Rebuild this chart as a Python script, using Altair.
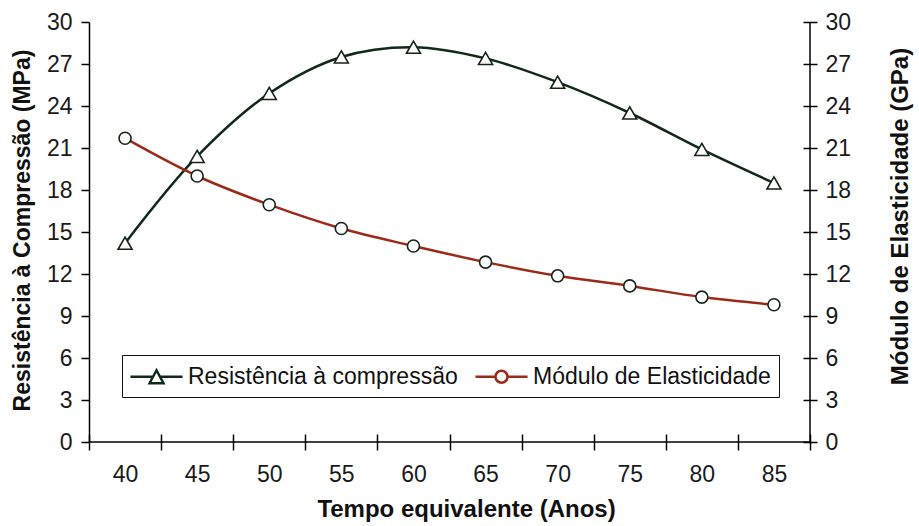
import altair as alt
import pandas as pd

# Tempo equivalente (anos) e valores medidos
tempo = ["40", "45", "50", "55", "60", "65", "70", "75", "80", "85"]
resistencia = [14.2, 20.4, 24.9, 27.5, 28.2, 27.4, 25.7, 23.5, 20.9, 18.5]
modulo = [21.7, 19.0, 16.95, 15.25, 14.0, 12.85, 11.87, 11.15, 10.35, 9.8]
series = ["Resistência à compressão", "Módulo de Elasticidade"]
marcas_y = [0, 3, 6, 9, 12, 15, 18, 21, 24, 27, 30]

LARGURA, ALTURA = 721, 420

VERDE = "#0f2a18"
VERMELHO = "#9c2a1a"
CONTORNO = "#152418"
FONTE = "Liberation Sans"

df_res = pd.DataFrame({"tempo": tempo, "valor": resistencia, "serie": series[0]})
df_mod = pd.DataFrame({"tempo": tempo, "valor": modulo, "serie": series[1]})
df_todos = pd.concat([df_res, df_mod], ignore_index=True)
df_base = pd.DataFrame({"valor": [0]})

# Eixo horizontal: marcas cruzadas nos limites das categorias
eixo_x = alt.Axis(
    title="Tempo equivalente (Anos)",
    tickBand="extent",
    offset=-8,
    tickSize=16,
    tickWidth=1.5,
    tickColor="black",
    domain=False,
    labelAngle=0,
    labelPadding=13,
    labelFontSize=23,
    titleFontSize=24,
    titleX=377,
    titleY=82,
    titleBaseline="alphabetic",
)
escala_x = alt.Scale(type="band", paddingInner=0, paddingOuter=0, domain=tempo)
x_enc = alt.X("tempo:O", sort=tempo, scale=escala_x, axis=eixo_x)

escala_y = alt.Scale(domain=[0, 30], nice=False, zero=True)

eixo_esq = alt.Axis(
    title="Resistência à Compressão (MPa)",
    values=marcas_y,
    tickSize=8,
    tickWidth=1.5,
    tickColor="black",
    labelPadding=9,
    labelFontSize=23,
    titleFontSize=23,
    titleX=-60,
    titleY=208,
    titleAngle=270,
    titleBaseline="alphabetic",
    domainColor="black",
    domainWidth=1.5,
)
# Eixo direito com marcas cruzadas
eixo_dir = alt.Axis(
    title="Módulo de Elasticidade (GPa)",
    orient="right",
    values=marcas_y,
    offset=-7,
    tickSize=14,
    tickWidth=1.5,
    tickColor="black",
    domain=False,
    labelPadding=8,
    labelFontSize=23,
    titleFontSize=24,
    titleX=104,
    titleY=194,
    titleAngle=270,
    titleBaseline="alphabetic",
)

y_esq = alt.Y("valor:Q", scale=escala_y, axis=eixo_esq)
y_dir = alt.Y("valor:Q", scale=escala_y, axis=eixo_dir)

# Símbolos da legenda: traço com marcador ao centro (unidade = 12 px)
simbolo_tri = "M-2.17,0H-0.29 M0.29,0H2.17 M-0.58,0.54L0,-0.54L0.58,0.54Z"
simbolo_circ = (
    "M-2.17,0H-0.5 M0.5,0H2.17 M-0.5,0A0.5,0.5 0 1,0 0.5,0A0.5,0.5 0 1,0 -0.5,0Z"
)

legenda = alt.Legend(
    title=None,
    orient="none",
    legendX=33,
    legendY=333,
    direction="horizontal",
    strokeColor="#111",
    fillColor="white",
    padding=8,
    labelFontSize=23,
    labelFont=FONTE,
    labelColor="#111",
    labelLimit=0,
    labelOffset=18,
    symbolOffset=13,
    columnPadding=12,
    symbolSize=576,
    symbolStrokeWidth=2.5,
    symbolOpacity=1,
    symbolFillColor="white",
)

# Linha de base do eixo horizontal (valor zero)
linha_base = alt.Chart(df_base).mark_rule(color="black", strokeWidth=1.5).encode(y=y_esq)
# Linha do eixo direito
linha_dir = alt.Chart(df_base).mark_rule(color="black", strokeWidth=1.5).encode(
    x=alt.value("width")
)

linha_res = alt.Chart(df_res).mark_line(
    interpolate="catmull-rom", color=VERDE, strokeWidth=2.5
).encode(x=x_enc, y=y_esq)
pontos_res = alt.Chart(df_res).mark_point(
    shape="triangle-up", size=196, filled=True, color="white",
    stroke=CONTORNO, strokeWidth=1.6, opacity=1
).encode(x=x_enc, y=y_esq)
camada_legenda = alt.Chart(df_todos).mark_point(opacity=0).encode(
    x=x_enc,
    y=y_esq,
    color=alt.Color("serie:N", scale=alt.Scale(domain=series, range=[VERDE, VERMELHO]), legend=legenda),
    shape=alt.Shape("serie:N", scale=alt.Scale(domain=series, range=[simbolo_tri, simbolo_circ]), legend=legenda),
)

linha_mod = alt.Chart(df_mod).mark_line(
    interpolate="catmull-rom", color=VERMELHO, strokeWidth=2.5
).encode(x=x_enc, y=y_dir)
pontos_mod = alt.Chart(df_mod).mark_point(
    shape="circle", size=144, filled=True, color="white",
    stroke=CONTORNO, strokeWidth=1.6, opacity=1
).encode(x=x_enc, y=y_dir)

grupo_esq = alt.layer(linha_base, linha_dir, linha_res, camada_legenda, pontos_res)
grupo_dir = alt.layer(linha_mod, pontos_mod)

chart = (
    alt.layer(grupo_esq, grupo_dir)
    .resolve_scale(y="independent")
    .properties(
        width=LARGURA,
        height=ALTURA,
        autosize=alt.AutoSizeParams(type="none"),
        padding={"left": 89, "top": 22, "right": 109, "bottom": 84},
        background="white",
    )
    .configure_view(stroke=None)
    .configure_axis(
        labelFont=FONTE,
        titleFont=FONTE,
        labelColor="#1a1a1a",
        titleColor="#111",
        titleFontWeight="bold",
        grid=False,
    )
)

chart.save("out.html", embed_options={"renderer": "svg", "actions": False})
